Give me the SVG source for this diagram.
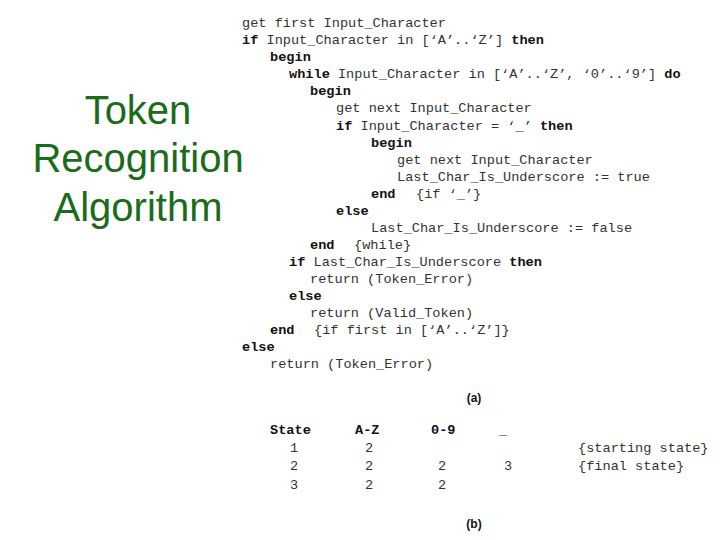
<svg xmlns="http://www.w3.org/2000/svg" width="720" height="540" viewBox="0 0 720 540">
<style>
.c{font-family:"Liberation Mono","Courier New",monospace;font-size:13.6px;fill:#333}
.b{font-weight:bold;fill:#111}
.t{font-family:"Liberation Sans",Arial,sans-serif;font-size:40px;fill:#1a6b1a;text-anchor:middle}
.l{font-family:"Liberation Sans",Arial,sans-serif;font-size:12px;font-weight:bold;fill:#111;text-anchor:middle}
</style>
<rect width="720" height="540" fill="#fff"/>
<g id="title">
<text class="t" x="138" y="124">Token</text>
<text class="t" x="138" y="172">Recognition</text>
<text class="t" x="138" y="221">Algorithm</text>
</g>
<g id="code" class="c">
<text x="242" y="27">get first Input_Character</text>
<text x="242" y="44"><tspan class="b">if</tspan> Input_Character in [‘A’..‘Z’] <tspan class="b">then</tspan></text>
<text x="270" y="61" class="b">begin</text>
<text x="289" y="78"><tspan class="b">while</tspan> Input_Character in [‘A’..‘Z’, ‘0’..‘9’] <tspan class="b">do</tspan></text>
<text x="310" y="95" class="b">begin</text>
<text x="336" y="112">get next Input_Character</text>
<text x="336" y="130"><tspan class="b">if</tspan> Input_Character = ‘_’ <tspan class="b">then</tspan></text>
<text x="371" y="147" class="b">begin</text>
<text x="397" y="164">get next Input_Character</text>
<text x="397" y="181">Last_Char_Is_Underscore := true</text>
<text x="371" y="198"><tspan class="b">end</tspan><tspan x="416">{if ‘_’}</tspan></text>
<text x="336" y="215" class="b">else</text>
<text x="371" y="232">Last_Char_Is_Underscore := false</text>
<text x="310" y="249"><tspan class="b">end</tspan><tspan x="354">{while}</tspan></text>
<text x="289" y="266"><tspan class="b">if</tspan> Last_Char_Is_Underscore <tspan class="b">then</tspan></text>
<text x="310" y="283">return (Token_Error)</text>
<text x="289" y="300" class="b">else</text>
<text x="310" y="317">return (Valid_Token)</text>
<text x="270" y="334"><tspan class="b">end</tspan><tspan x="314">{if first in [‘A’..‘Z’]}</tspan></text>
<text x="242" y="351" class="b">else</text>
<text x="270" y="368">return (Token_Error)</text>
</g>
<g id="labels">
<text class="l" x="474" y="402">(a)</text>
<text class="l" x="474" y="528">(b)</text>
</g>
<g id="table" class="c">
<text x="270" y="434" class="b">State</text>
<text x="355" y="434" class="b">A-Z</text>
<text x="431" y="434" class="b">0-9</text>
<text x="499" y="434">_</text>
<text x="290" y="452">1</text><text x="365" y="452">2</text><text x="578" y="452">{starting state}</text>
<text x="290" y="470">2</text><text x="365" y="470">2</text><text x="438" y="470">2</text><text x="504" y="470">3</text><text x="578" y="470">{final state}</text>
<text x="290" y="489">3</text><text x="365" y="489">2</text><text x="438" y="489">2</text>
</g>
</svg>
